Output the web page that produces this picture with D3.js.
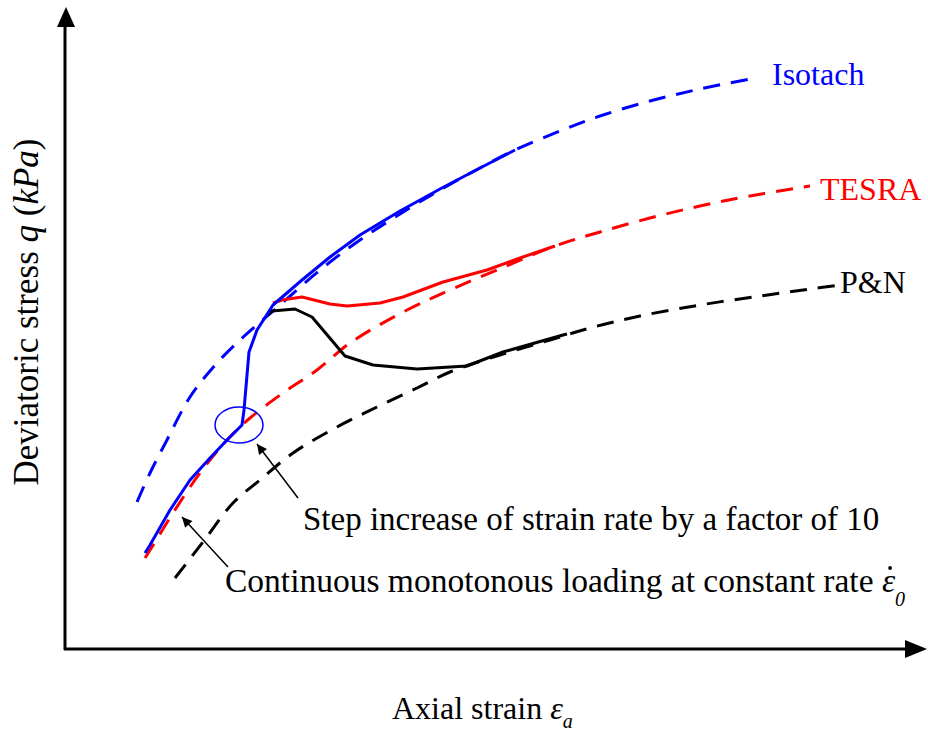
<!DOCTYPE html>
<html>
<head>
<meta charset="utf-8">
<script src="https://cdn.jsdelivr.net/npm/d3@7"></script>
<style>
  body { margin: 0; background: #fff; }
  svg { display: block; }
</style>
</head>
<body>
<svg id="chart" width="928" height="733"></svg>
<script>
// schematic curves, axial strain vs deviatoric stress (arbitrary units)
var isoX = [72, 85, 102, 125, 152, 175, 193, 215, 255, 295, 335, 375, 415, 450, 495, 535, 585, 635, 685];
var isoY = [148, 177, 210, 253, 287, 310, 326, 345, 380, 410, 436, 460, 482, 500, 519, 534, 549, 561, 571];

var tesraX = [80, 87, 108, 135, 162, 185, 218, 252, 285, 342, 385, 432, 490, 535, 585, 635, 685, 745];
var tesraY = [92, 103, 137, 177, 210, 232, 257, 280, 307, 340, 360, 380, 404, 418, 432, 444, 454, 464];

var pnX = [110, 138, 168, 195, 228, 272, 312, 352, 385, 435, 485, 525, 575, 635, 695, 745, 775];
var pnY = [72, 108, 147, 170, 197, 223, 243, 262, 278, 295, 310, 322, 334, 345, 354, 361, 365];

// step-change responses
var blueX = [80, 85, 105, 125, 145, 162, 177, 179, 184, 192, 208, 237, 265, 295, 335, 375, 415, 450];
var blueY = [97, 105, 140, 170, 192, 210, 225, 240, 298, 320, 345, 370, 393, 415, 439, 461, 482, 500];

var redX = [208, 217, 237, 265, 282, 315, 338, 378, 422, 455, 490];
var redY = [347, 350, 353, 346, 344, 347, 353, 368, 380, 392, 404];

var blackX = [203, 207, 230, 247, 280, 308, 352, 402, 438, 498, 502];
var blackY = [335, 339, 341, 333, 294, 285, 281, 284, 298, 315, 316];

// step point (circle)
var stepPt = [174, 225];

var serif = "'Liberation Serif', 'Times New Roman', Times, serif";

var svg = d3.select("#chart");

var x = d3.scaleLinear().domain([0, 850]).range([65, 915]);
var y = d3.scaleLinear().domain([0, 640]).range([650, 10]);

function pts(xs, ys) {
  return xs.map(function(v, i) { return [v, ys[i]]; });
}

var smooth = d3.line()
  .x(function(d) { return x(d[0]); })
  .y(function(d) { return y(d[1]); })
  .curve(d3.curveCatmullRom);

var poly = d3.line()
  .x(function(d) { return x(d[0]); })
  .y(function(d) { return y(d[1]); });

// dashed model curves
var dashed = [
  {data: pts(isoX, isoY), color: "#0000ff"},
  {data: pts(tesraX, tesraY), color: "#ff0000"},
  {data: pts(pnX, pnY), color: "#000000"}
];
dashed.forEach(function(c) {
  svg.append("path")
    .attr("d", smooth(c.data))
    .attr("fill", "none")
    .attr("stroke", c.color)
    .attr("stroke-width", 3)
    .attr("stroke-dasharray", "17,11");
});

// solid responses
var solid = [
  {data: pts(redX, redY), color: "#ff0000"},
  {data: pts(blackX, blackY), color: "#000000"},
  {data: pts(blueX, blueY), color: "#0000ff"}
];
solid.forEach(function(c) {
  svg.append("path")
    .attr("d", poly(c.data))
    .attr("fill", "none")
    .attr("stroke", c.color)
    .attr("stroke-width", 3)
    .attr("stroke-linejoin", "round");
});

svg.append("ellipse")
  .attr("cx", x(stepPt[0]))
  .attr("cy", y(stepPt[1]))
  .attr("rx", 24)
  .attr("ry", 18)
  .attr("fill", "none")
  .attr("stroke", "#0000ff")
  .attr("stroke-width", 1.5);

// axes with arrows
svg.append("line")
  .attr("x1", 65).attr("y1", 650).attr("x2", 65).attr("y2", 22)
  .attr("stroke", "#000").attr("stroke-width", 3);
svg.append("path")
  .attr("d", "M66,7 L57,27 L75,27 Z")
  .attr("fill", "#000");
svg.append("line")
  .attr("x1", 64).attr("y1", 649).attr("x2", 910).attr("y2", 649)
  .attr("stroke", "#000").attr("stroke-width", 3);
svg.append("path")
  .attr("d", "M927,649 L905,640 L905,658 Z")
  .attr("fill", "#000");

function label(xp, yp, color, str, size) {
  return svg.append("text")
    .attr("x", xp).attr("y", yp)
    .attr("font-family", serif)
    .attr("font-size", size || 32)
    .attr("fill", color)
    .text(str);
}

// model labels
label(772, 85, "#0000ff", "Isotach");
label(820, 200, "#ff0000", "TESRA");
label(840, 293, "#000", "P&N");

// annotation arrows
svg.append("defs").append("marker")
  .attr("id", "head")
  .attr("viewBox", "0 0 10 10")
  .attr("refX", 10).attr("refY", 5)
  .attr("markerWidth", 14).attr("markerHeight", 10)
  .attr("markerUnits", "userSpaceOnUse")
  .attr("orient", "auto")
  .append("path").attr("d", "M0,0 L10,5 L0,10 Z").attr("fill", "#000");

svg.append("line")
  .attr("x1", 298).attr("y1", 498).attr("x2", 257).attr("y2", 444)
  .attr("stroke", "#000").attr("stroke-width", 1.5)
  .attr("marker-end", "url(#head)");
svg.append("line")
  .attr("x1", 228).attr("y1", 567).attr("x2", 182).attr("y2", 517)
  .attr("stroke", "#000").attr("stroke-width", 1.5)
  .attr("marker-end", "url(#head)");

label(303, 530, "#000", "Step increase of strain rate by a factor of 10", 33);

var contStr = "Continuous monotonous loading at constant rate ";
var cont = label(225, 592, "#000", "", 33.5);
cont.append("tspan").text(contStr);
cont.append("tspan").attr("font-style", "italic").text("\u03B5");
cont.append("tspan").attr("font-style", "italic").attr("font-size", 20).attr("dy", 14).text("0");
// dot over epsilon, placed from the glyph's extent
var ext = cont.node().getExtentOfChar(contStr.length);
svg.append("circle")
  .attr("cx", ext.x + ext.width * 0.62)
  .attr("cy", 568)
  .attr("r", 1.9)
  .attr("fill", "#000");

// axis titles
var xt = label(392, 719, "#000", "");
xt.append("tspan").text("Axial strain ");
xt.append("tspan").attr("font-style", "italic").text("\u03B5");
xt.append("tspan").attr("font-style", "italic").attr("font-size", 20).attr("dy", 9).text("a");

var yt = label(0, 0, "#000", "", 35)
  .attr("transform", "translate(38,312) rotate(-90)")
  .attr("text-anchor", "middle");
yt.append("tspan").text("Deviatoric stress ");
yt.append("tspan").attr("font-style", "italic").text("q");
yt.append("tspan").text(" (");
yt.append("tspan").attr("font-style", "italic").text("kPa");
yt.append("tspan").text(")");
</script>
</body>
</html>
